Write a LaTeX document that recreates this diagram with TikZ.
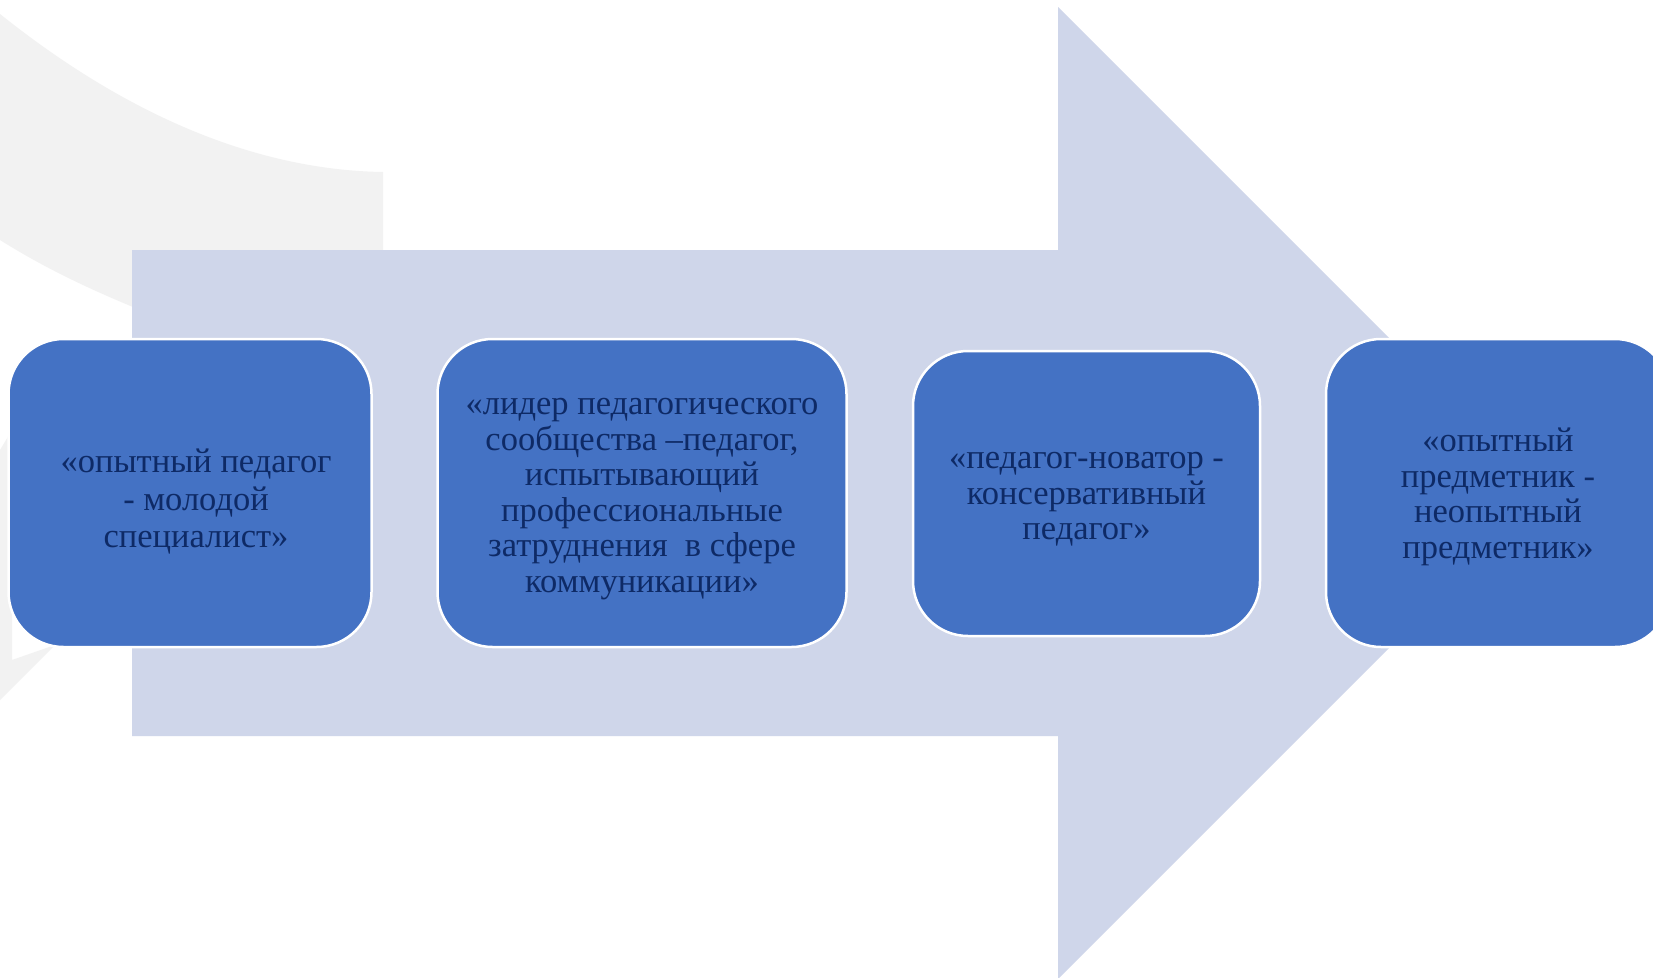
\documentclass[tikz,border=0pt]{standalone}
\usepackage{fontspec}
\setmainfont{Liberation Serif}
\definecolor{arrowfill}{HTML}{CFD6EA}
\definecolor{boxfill}{HTML}{4472C4}
\definecolor{txt}{HTML}{0E2A66}
\definecolor{wm}{HTML}{F2F2F2}
\tikzset{
  stage/.style={rectangle, rounded corners=55pt, fill=boxfill, draw=white, line width=2.5pt, inner sep=0pt},
  stagetext/.style={align=center, text=txt, inner sep=0pt,
    font=\fontsize{34.5}{35.6}\selectfont},
  bigarrow/.style={fill=arrowfill, draw=none},
  watermark/.style={fill=wm, draw=none}
}
\begin{document}
\begin{tikzpicture}[x=1pt,y=-1pt]
\useasboundingbox (0,0) rectangle (1653,977);
\clip (0,0) rectangle (1653,977);
\fill[white] (0,0) rectangle (1653,977);
% faint watermark shapes
\fill[watermark] (0,14) .. controls (120,110) and (250,170) .. (383,172) -- (383,260) -- (133,260) -- (133,307) .. controls (80,285) and (40,265) .. (0,240) -- cycle;
\fill[watermark] (0,450) -- (12,430) -- (12,660) -- (55,645) -- (0,700) -- cycle;
% big arrow
\path[bigarrow] (132,250) -- (1058,250) -- (1058,7) -- (1544,493) -- (1058,979) -- (1058,736) -- (132,736) -- cycle;
% stages
\node[stage, minimum width=363pt, minimum height=308pt] (s1) at (190,493) {};
\node[stage, minimum width=409pt, minimum height=308pt] (s2) at (642,493) {};
\node[stage, minimum width=347pt, minimum height=285pt] (s3) at (1086.5,493.5) {};
\node[stage, minimum width=344pt, minimum height=308pt] (s4) at (1498,493) {};
% texts
\node[stagetext, font=\fontsize{34.5}{37.5}\selectfont] (t1) at ([xshift=6pt,yshift=-9pt]s1.center)
  {«опытный педагог\\- молодой\\специалист»};
\node[stagetext] (t2) at ([yshift=-6pt]s2.center)
  {«лидер педагогического\\сообщества –педагог,\\испытывающий\\профессиональные\\затруднения~ в сфере\\коммуникации»};
\node[stagetext] (t3) at ([yshift=-6pt]s3.center)
  {«педагог-новатор -\\консервативный\\педагог»};
\node[stagetext] (t4) at ([yshift=-4pt]s4.center)
  {«опытный\\предметник -\\неопытный\\предметник»};
\end{tikzpicture}
\end{document}
